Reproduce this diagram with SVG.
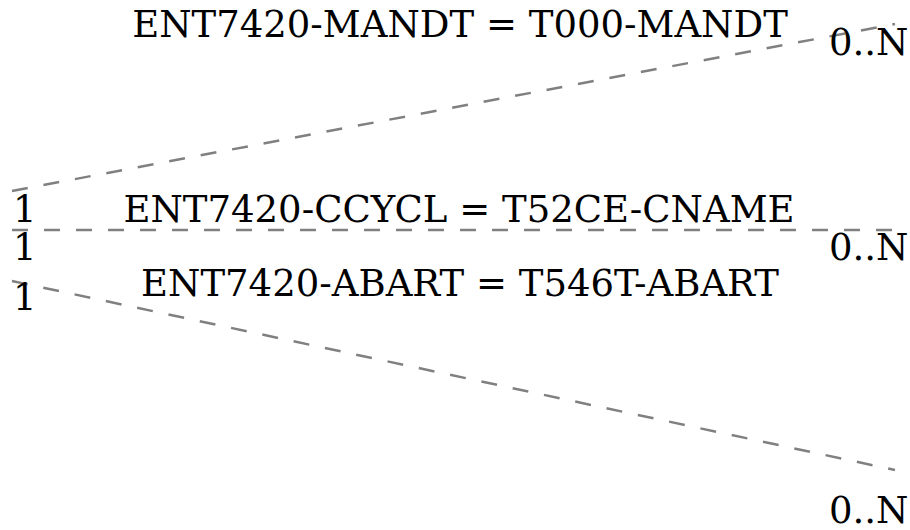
<svg xmlns="http://www.w3.org/2000/svg" width="910" height="530" viewBox="0 0 910 530">
<style>
.c{stroke:#808080;stroke-width:2.5;stroke-dasharray:16,16;fill:none}
text{font-family:"DejaVu Serif",serif;font-size:37px;fill:#000}
.m{text-anchor:middle}
</style>
<rect width="910" height="530" fill="#fff"/>
<g id="connectors">
<line class="c" x1="12" y1="191" x2="895" y2="24"/>
<line class="c" x1="12" y1="230" x2="895" y2="230"/>
<line class="c" x1="12" y1="281" x2="895" y2="470"/>
</g>
<g id="rel1">
<text class="m" x="460" y="37">ENT7420-MANDT = T000-MANDT</text>
<text x="13" y="222">1</text>
<text x="829" y="55">0..N</text>
</g>
<g id="rel2">
<text class="m" x="459" y="222">ENT7420-CCYCL = T52CE-CNAME</text>
<text x="13" y="260">1</text>
<text x="829" y="260">0..N</text>
</g>
<g id="rel3">
<text class="m" x="460" y="296">ENT7420-ABART = T546T-ABART</text>
<text x="13" y="310">1</text>
<text x="829" y="523">0..N</text>
</g>
</svg>
